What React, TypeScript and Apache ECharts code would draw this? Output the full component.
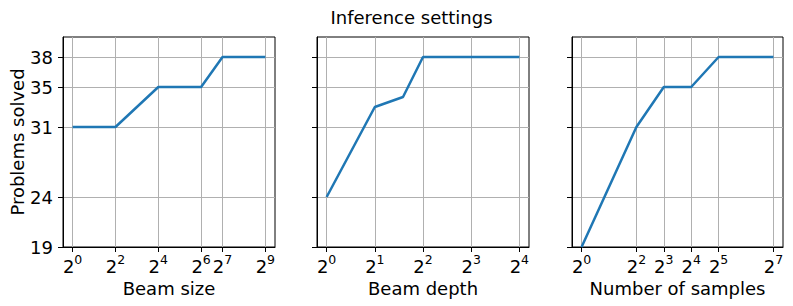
import React, { useEffect, useRef } from "react";
import * as echarts from "echarts";

const titleText = "Inference settings";
const yAxisName = "Problems solved";
const yTicks = [19, 24, 31, 35, 38];

const beamSizeX = [1, 4, 16, 64, 128, 512];
const beamSizeY = [31, 31, 35, 35, 38, 38];
const beamSizeTicks = [0, 2, 4, 6, 7, 9];

const beamDepthX = [1, 2, 3, 4, 8, 16];
const beamDepthY = [24, 33, 34, 38, 38, 38];
const beamDepthTicks = [0, 1, 2, 3, 4];

const samplesX = [1, 4, 8, 16, 32, 128];
const samplesY = [19, 31, 35, 35, 38, 38];
const samplesTicks = [0, 2, 3, 4, 5, 7];

const panelNames = ["Beam size", "Beam depth", "Number of samples"];

const FONT = "DejaVu Sans";
const FS = 18;

export default function App() {
  const ref = useRef<HTMLDivElement>(null);
  useEffect(() => {
    if (!ref.current) return;
    const chart = echarts.init(ref.current, undefined, { renderer: "svg" });
    const panels = [
      { xs: beamSizeX, ys: beamSizeY, ticks: beamSizeTicks, left: 63, width: 212, range: [-0.45, 9.45] },
      { xs: beamDepthX, ys: beamDepthY, ticks: beamDepthTicks, left: 317, width: 212, range: [-0.2, 4.2] },
      { xs: samplesX, ys: samplesY, ticks: samplesTicks, left: 572, width: 211, range: [-0.35, 7.35] },
    ];
    const grid = panels.map((p) => ({
      left: p.left,
      top: 37,
      width: p.width,
      height: 210,
      show: true,
      borderColor: "#000",
      borderWidth: 1,
      backgroundColor: "transparent",
      containLabel: false,
    }));
    const xAxis = panels.map((p, i) => ({
      type: "value",
      gridIndex: i,
      min: p.range[0],
      max: p.range[1],
      name: panelNames[i],
      nameLocation: "middle",
      nameGap: 30,
      nameTextStyle: { fontFamily: FONT, fontSize: FS, color: "#000" },
      axisLine: { show: true, onZero: false, lineStyle: { color: "#000", width: 1 } },
      axisTick: { show: true, length: 5, inside: false, customValues: p.ticks, lineStyle: { color: "#000" } },
      splitLine: { show: true, lineStyle: { color: "#b0b0b0", width: 1 } },
      axisLabel: {
        show: true,
        margin: 6,
        customValues: p.ticks,
        formatter: (v: number) => `{b|2}{s|${Math.round(v)}}`,
        rich: {
          b: { fontFamily: FONT, fontSize: FS, color: "#000", lineHeight: 22, verticalAlign: "bottom" },
          s: { fontFamily: FONT, fontSize: 12.5, color: "#000", lineHeight: 14, verticalAlign: "top" },
        },
      },
    }));
    const yAxis = panels.map((p, i) => ({
      type: "value",
      gridIndex: i,
      min: 19,
      max: 40,
      name: i === 0 ? yAxisName : "",
      nameLocation: "middle",
      nameGap: 37,
      nameTextStyle: { fontFamily: FONT, fontSize: FS, color: "#000" },
      axisLine: { show: true, onZero: false, lineStyle: { color: "#000", width: 1 } },
      axisTick: { show: true, length: 5, inside: false, customValues: yTicks, lineStyle: { color: "#000" } },
      splitLine: { show: true, lineStyle: { color: "#b0b0b0", width: 1 } },
      axisLabel: {
        show: i === 0,
        margin: 10,
        customValues: yTicks,
        fontFamily: FONT,
        fontSize: FS,
        color: "#000",
      },
    }));
    const series = panels.map((p, i) => ({
      type: "line",
      xAxisIndex: i,
      yAxisIndex: i,
      symbol: "none",
      clip: false,
      data: p.xs.map((x, k) => [Math.log2(x), p.ys[k]]),
      lineStyle: { color: "#1f77b4", width: 2.5 },
      itemStyle: { color: "#1f77b4" },
    }));
    chart.setOption({
      animation: false,
      backgroundColor: "#fff",
      grid,
      xAxis,
      yAxis,
      series,
      graphic: [
        {
          type: "text",
          x: 411.5,
          y: 17,
          style: {
            text: titleText,
            fontFamily: FONT,
            fontSize: FS,
            fill: "#000",
            align: "center",
            verticalAlign: "middle",
          },
        },
      ],
    });
    return () => chart.dispose();
  }, []);
  return (
    <div
      ref={ref}
      style={{ position: "fixed", left: 0, top: 0, width: 793, height: 306 }}
    />
  );
}
